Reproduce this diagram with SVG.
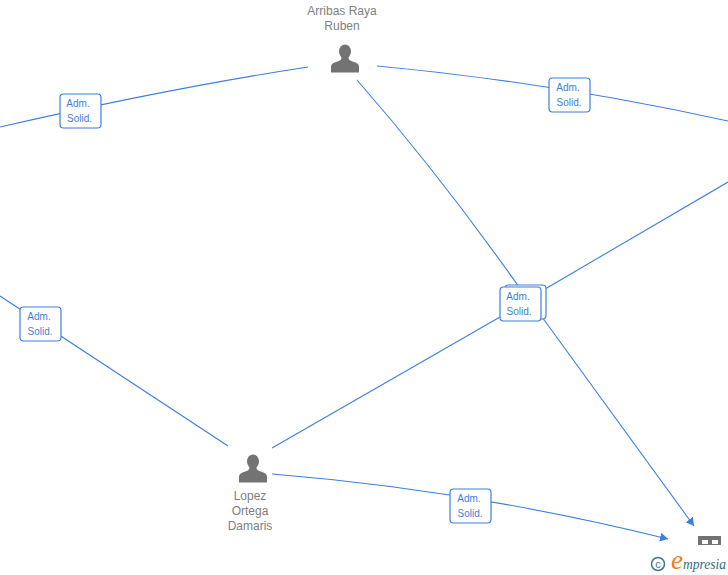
<svg xmlns="http://www.w3.org/2000/svg" width="728" height="575" viewBox="0 0 728 575">
<style>
.c{fill:none;stroke:#3c7fe0;stroke-width:1.1}
.b{fill:#fff;stroke:#3c7fe0;stroke-width:1.2}
.l{font-family:"Liberation Sans",Arial,sans-serif;font-size:10px;fill:#3c7fe0;text-anchor:middle}
.n{font-family:"Liberation Sans",Arial,sans-serif;font-size:12px;fill:#808080;text-anchor:middle}
.p{fill:#737373}
</style>
<defs>
<marker id="a" markerUnits="userSpaceOnUse" markerWidth="10" markerHeight="10" refX="8" refY="4.500" orient="auto"><path d="M0 0L8 4.500L0 9z" fill="#3c7fe0"/></marker>
<g id="person"><ellipse cx="0" cy="-7.500" rx="6" ry="7" class="p"/><path class="p" d="M-3.500-3V-1C-3.500 1-6 2-9 3C-12 4-14 5-14 8V13.500H14V8C14 5 12 4 9 3C6 2 3.500 1 3.500-1V-3z"/></g>
</defs>
<g id="connectors">
<path class="c" d="M308 67Q170 88 0 127"/>
<path class="c" d="M377 66Q550 82 728 121"/>
<path class="c" d="M357 80Q440 175 519 287"/>
<path class="c" d="M728 182L540 292"/>
<path class="c" d="M500 317L272 448"/>
<path class="c" d="M0 296L228 446"/>
<path class="c" d="M542 317L694 526" marker-end="url(#a)"/>
<path class="c" d="M272 474Q470 490 668 539" marker-end="url(#a)"/>
</g>
<g id="node-arribas"><use href="#person" x="345" y="59"/><text class="n" x="342" y="15">Arribas Raya</text><text class="n" x="342" y="30">Ruben</text></g>
<g id="node-lopez"><use href="#person" x="253" y="469"/><text class="n" x="250" y="500">Lopez</text><text class="n" x="250" y="515">Ortega</text><text class="n" x="250" y="530">Damaris</text></g>
<g id="node-company"><path fill="#737373" d="M698 536H721V545H698z"/><path fill="#fff" d="M702 540H708V544H702zM712 540H718V544H712z"/></g>
<g id="label-1"><rect class="b" x="60" y="94" width="41" height="34" rx="3.500"/><text class="l" x="78" y="107">Adm.</text><text class="l" x="79.500" y="122">Solid.</text></g>
<g id="label-2"><rect class="b" x="549" y="78" width="41" height="34" rx="3.500"/><text class="l" x="568" y="91">Adm.</text><text class="l" x="569" y="106">Solid.</text></g>
<g id="label-3"><rect class="b" x="20" y="307" width="41" height="34" rx="3.500"/><text class="l" x="39" y="320">Adm.</text><text class="l" x="40" y="335">Solid.</text></g>
<g id="label-4"><rect class="b" x="450" y="489" width="41" height="34" rx="3.500"/><text class="l" x="469" y="502">Adm.</text><text class="l" x="470" y="517">Solid.</text></g>
<g id="label-5"><rect class="b" x="505" y="285" width="41" height="34" rx="3.500"/><rect class="b" x="500" y="287" width="41" height="34" rx="3.500"/><text class="l" x="518" y="300">Adm.</text><text class="l" x="519" y="315">Solid.</text></g>
<g id="logo"><circle cx="658" cy="564" r="6.500" fill="none" stroke="#3a7a8c" stroke-width="1.500"/><text x="658" y="568" font-family="Liberation Sans,sans-serif" font-size="11" fill="#3a7a8c" text-anchor="middle">c</text><text x="671" y="568.500" font-family="Liberation Serif,serif" font-style="italic" font-size="27" fill="#f07d1a">e</text><text x="683" y="569" font-family="Liberation Serif,serif" font-style="italic" font-size="14" fill="#2a6f80" textLength="43" lengthAdjust="spacingAndGlyphs">mpresia</text></g>
</svg>
